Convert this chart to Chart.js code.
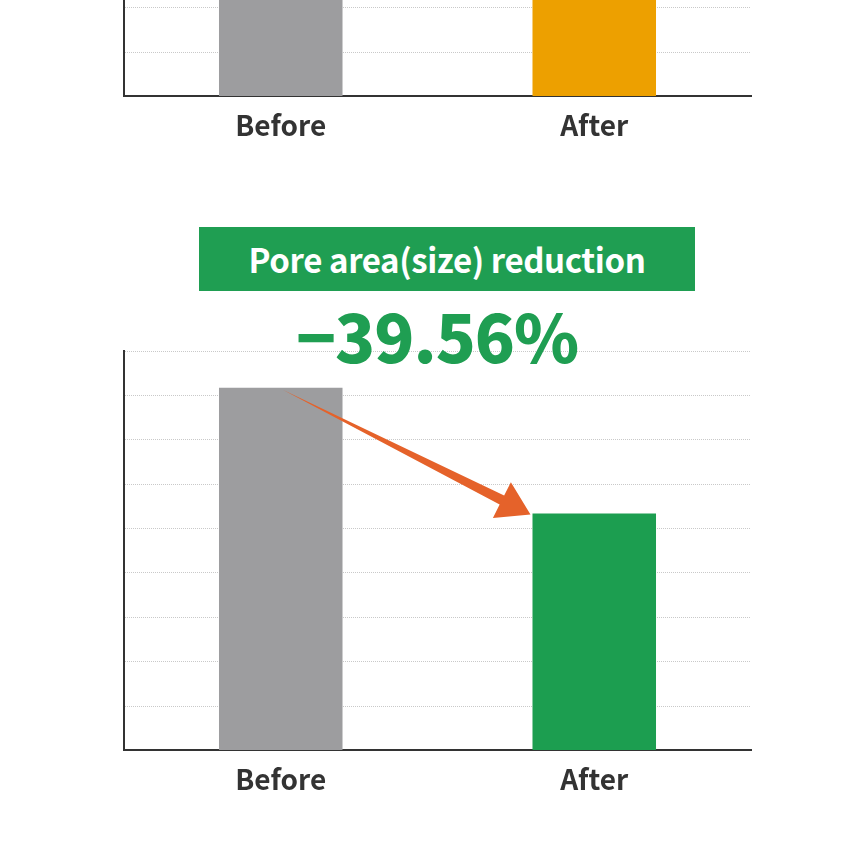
<!DOCTYPE html>
<html><head><meta charset="utf-8">
<script src="https://cdn.jsdelivr.net/npm/chart.js@4.4.1/dist/chart.umd.min.js"></script>
<style>
html,body{margin:0;padding:0;background:#fff;width:860px;height:866px;overflow:hidden;position:relative;font-family:"Noto Sans CJK KR","Noto Sans",sans-serif;}
.box{position:absolute;left:0;width:860px;height:480px;}
#banner{position:absolute;left:199px;top:227px;width:496px;height:64px;background:#1f9e52;color:#fff;font-weight:700;font-size:33px;line-height:64px;text-align:center;letter-spacing:-0.4px;}
#pct{position:absolute;left:0;width:874px;top:294px;text-align:center;color:#1f9e52;font-weight:900;font-size:66px;line-height:80px;letter-spacing:-1px;}
</style></head>
<body>
<div class="box" style="top:-314px"><canvas id="c1"></canvas></div>
<div class="box" style="top:340px"><canvas id="c2"></canvas></div>
<div id="banner">Pore area(size) reduction</div>
<div id="pct">−39.56%</div>
<script>
const categories = ['Before', 'After'];
const topValues = [7.6, 8.4];        // upper chart (mostly cropped)
const bottomValues = [8.17, 5.34];   // pore area chart
const yMax = 9;
const topColors = ['#9d9d9f', '#eda000'];
const bottomColors = ['#9d9d9f', '#1c9e50'];

const arrowPlugin = {
  id: 'arrow',
  afterDatasetsDraw(chart) {
    const meta = chart.getDatasetMeta(0);
    const a = meta.data[0], b = meta.data[1];
    const sx = a.x + 2, sy = a.y + 2;
    const tx = b.x - b.width / 2 - 2, ty = b.y + 1;
    const dx = tx - sx, dy = ty - sy, L = Math.hypot(dx, dy);
    const ux = dx / L, uy = dy / L, nx = -uy, ny = ux;
    const headLen = 32, headHalf = 20, shaftHalf = 5;
    const bx = tx - ux * headLen, by = ty - uy * headLen;
    const ctx = chart.ctx;
    ctx.save();
    ctx.fillStyle = '#e5622a';
    ctx.beginPath();
    ctx.moveTo(sx, sy);
    ctx.lineTo(bx + nx * shaftHalf, by + ny * shaftHalf);
    ctx.lineTo(bx + nx * headHalf, by + ny * headHalf);
    ctx.lineTo(tx, ty);
    ctx.lineTo(bx - nx * headHalf, by - ny * headHalf);
    ctx.lineTo(bx - nx * shaftHalf, by - ny * shaftHalf);
    ctx.closePath();
    ctx.fill();
    ctx.restore();
  }
};

function makeChart(id, values, colors, plugins) {
  return new Chart(document.getElementById(id), {
    type: 'bar',
    data: { labels: categories, datasets: [{ data: values, backgroundColor: colors, borderWidth: 0, barPercentage: 0.394, categoryPercentage: 1 }] },
    options: {
      responsive: true, maintainAspectRatio: false, animation: false,
      layout: { padding: { left: 124, right: 109, top: 11, bottom: 12 } },
      plugins: { legend: { display: false }, tooltip: { enabled: false } },
      scales: {
        x: {
          grid: { display: false, drawTicks: false },
          border: { display: true, color: '#333', width: 2 },
          ticks: { color: '#333', padding: 12, font: { family: '"Noto Sans CJK KR", "Noto Sans", sans-serif', size: 28, weight: 'bold' } }
        },
        y: {
          min: 0, max: yMax,
          ticks: { display: false, stepSize: 1 },
          grid: { color: '#c9c9c9', lineWidth: 1, drawTicks: false },
          border: { display: true, color: '#333', width: 2, dash: [1, 1] }
        }
      }
    },
    plugins: plugins
  });
}
makeChart('c1', topValues, topColors, []);
makeChart('c2', bottomValues, bottomColors, [arrowPlugin]);
</script>
</body></html>
